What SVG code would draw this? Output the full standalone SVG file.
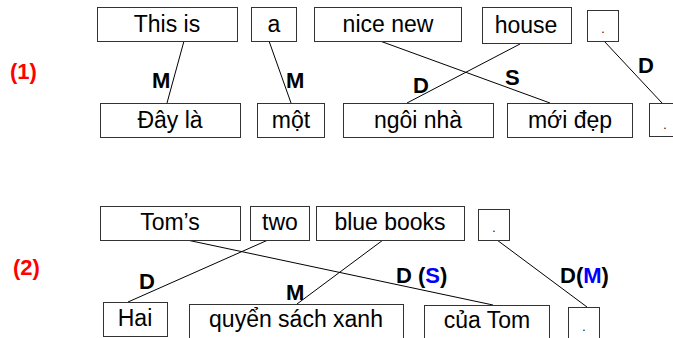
<svg xmlns="http://www.w3.org/2000/svg" width="673" height="338" viewBox="0 0 673 338">
<style>
.box{fill:#fff;stroke:#333;stroke-width:1}
.t{font-family:"Liberation Sans",Arial,sans-serif;font-size:23px;fill:#000;text-anchor:middle}
.d{font-family:"Liberation Sans",Arial,sans-serif;font-size:12px;fill:#000;text-anchor:middle}
.l{font-family:"Liberation Sans",Arial,sans-serif;font-size:22px;font-weight:bold;fill:#000}
.red{font-family:"Liberation Sans",Arial,sans-serif;font-size:22px;font-weight:bold;fill:#f00}
.blue{fill:#00f}
.c line{stroke:#000;stroke-width:1}
</style>
<rect width="673" height="338" fill="#fff"/>
<text class="red" x="10" y="79">(1)</text>
<text class="red" x="13" y="275">(2)</text>
<g class="c" id="connectors">
<line x1="184" y1="41" x2="167" y2="103"/>
<line x1="269" y1="41" x2="291" y2="103"/>
<line x1="380" y1="41" x2="550" y2="103"/>
<line x1="520" y1="44" x2="407" y2="103"/>
<line x1="604" y1="41" x2="662" y2="103"/>
<line x1="187" y1="240" x2="493" y2="305"/>
<line x1="268" y1="240" x2="128" y2="302"/>
<line x1="383" y1="240" x2="297" y2="304"/>
<line x1="497" y1="240" x2="587" y2="307"/>
</g>
<g id="labels">
<text class="l" x="152" y="88">M</text>
<text class="l" x="286" y="88">M</text>
<text class="l" x="413" y="93">D</text>
<text class="l" x="505" y="85">S</text>
<text class="l" x="638" y="73">D</text>
<text class="l" x="139" y="289">D</text>
<text class="l" x="286" y="300">M</text>
<text class="l" x="396" y="283">D (<tspan class="blue">S</tspan>)</text>
<text class="l" x="560" y="283">D(<tspan class="blue">M</tspan>)</text>
</g>
<g id="n-thisis"><rect class="box" x="97.5" y="7.5" width="140" height="34"/><text class="t" x="167" y="32">This is</text></g>
<g id="n-a"><rect class="box" x="251.5" y="7.5" width="45" height="34"/><text class="t" x="274" y="32">a</text></g>
<g id="n-nicenew"><rect class="box" x="314.5" y="7.5" width="147" height="34"/><text class="t" x="388" y="32">nice new</text></g>
<g id="n-house"><rect class="box" x="482.5" y="7.5" width="89" height="36"/><text class="t" x="526" y="33">house</text></g>
<g id="n-dot1"><rect class="box" x="587.5" y="10.5" width="31" height="31"/><text class="d" x="603" y="33">.</text></g>
<g id="n-dayla"><rect class="box" x="100.5" y="103.5" width="140" height="34"/><text class="t" x="170" y="128">Đây là</text></g>
<g id="n-mot"><rect class="box" x="257.5" y="103.5" width="67" height="34"/><text class="t" x="291" y="128">một</text></g>
<g id="n-ngoinha"><rect class="box" x="343.5" y="103.5" width="150" height="34"/><text class="t" x="418" y="128">ngôi nhà</text></g>
<g id="n-moidep"><rect class="box" x="507.5" y="103.5" width="125" height="34"/><text class="t" x="570" y="128">mới đẹp</text></g>
<g id="n-dot1b"><rect class="box" x="649.5" y="103.5" width="31" height="33"/><text class="d" x="665" y="129">.</text></g>
<g id="n-toms"><rect class="box" x="100.5" y="206.5" width="140" height="34"/><text class="t" x="170" y="230">Tom’s</text></g>
<g id="n-two"><rect class="box" x="250.5" y="206.5" width="59" height="34"/><text class="t" x="280" y="230">two</text></g>
<g id="n-bluebooks"><rect class="box" x="316.5" y="206.5" width="148" height="34"/><text class="t" x="390" y="230">blue books</text></g>
<g id="n-dot2"><rect class="box" x="478.5" y="209.5" width="31" height="31"/><text class="d" x="494" y="232">.</text></g>
<g id="n-hai"><rect class="box" x="103.5" y="302.5" width="64" height="34"/><text class="t" x="135" y="326">Hai</text></g>
<g id="n-quyen"><rect class="box" x="189.5" y="304.5" width="214" height="40"/><text class="t" x="296" y="327">quyển sách xanh</text></g>
<g id="n-cuatom"><rect class="box" x="424.5" y="305.5" width="125" height="40"/><text class="t" x="487" y="328">của Tom</text></g>
<g id="n-dot2b"><rect class="box" x="568.5" y="307.5" width="31" height="40"/><text class="d" x="584" y="331">.</text></g>
</svg>
